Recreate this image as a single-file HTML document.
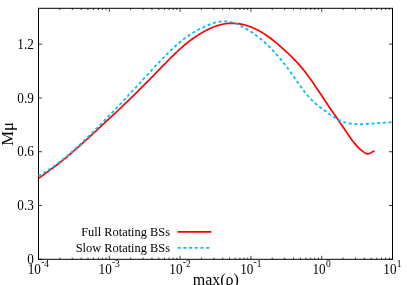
<!DOCTYPE html>
<html><head><meta charset="utf-8"><title>plot</title>
<style>html,body{margin:0;padding:0;background:#fff;width:407px;height:285px;overflow:hidden;font-family:"Liberation Serif",serif}</style>
</head><body>
<svg width="407" height="285" viewBox="0 0 407 285" style="position:absolute;left:0;top:0;will-change:transform">
<rect x="0" y="0" width="407" height="285" fill="#fff"/>
<path d="M38.50,259.3 v-3.5 M38.50,8.3 v3.5 M59.81,259.3 v-1.7 M59.81,8.3 v1.7 M72.28,259.3 v-1.7 M72.28,8.3 v1.7 M81.13,259.3 v-1.7 M81.13,8.3 v1.7 M87.99,259.3 v-1.7 M87.99,8.3 v1.7 M93.59,259.3 v-1.7 M93.59,8.3 v1.7 M98.33,259.3 v-1.7 M98.33,8.3 v1.7 M102.44,259.3 v-1.7 M102.44,8.3 v1.7 M106.06,259.3 v-1.7 M106.06,8.3 v1.7 M109.30,259.3 v-3.5 M109.30,8.3 v3.5 M130.61,259.3 v-1.7 M130.61,8.3 v1.7 M143.08,259.3 v-1.7 M143.08,8.3 v1.7 M151.93,259.3 v-1.7 M151.93,8.3 v1.7 M158.79,259.3 v-1.7 M158.79,8.3 v1.7 M164.39,259.3 v-1.7 M164.39,8.3 v1.7 M169.13,259.3 v-1.7 M169.13,8.3 v1.7 M173.24,259.3 v-1.7 M173.24,8.3 v1.7 M176.86,259.3 v-1.7 M176.86,8.3 v1.7 M180.10,259.3 v-3.5 M180.10,8.3 v3.5 M201.41,259.3 v-1.7 M201.41,8.3 v1.7 M213.88,259.3 v-1.7 M213.88,8.3 v1.7 M222.73,259.3 v-1.7 M222.73,8.3 v1.7 M229.59,259.3 v-1.7 M229.59,8.3 v1.7 M235.19,259.3 v-1.7 M235.19,8.3 v1.7 M239.93,259.3 v-1.7 M239.93,8.3 v1.7 M244.04,259.3 v-1.7 M244.04,8.3 v1.7 M247.66,259.3 v-1.7 M247.66,8.3 v1.7 M250.90,259.3 v-3.5 M250.90,8.3 v3.5 M272.21,259.3 v-1.7 M272.21,8.3 v1.7 M284.68,259.3 v-1.7 M284.68,8.3 v1.7 M293.53,259.3 v-1.7 M293.53,8.3 v1.7 M300.39,259.3 v-1.7 M300.39,8.3 v1.7 M305.99,259.3 v-1.7 M305.99,8.3 v1.7 M310.73,259.3 v-1.7 M310.73,8.3 v1.7 M314.84,259.3 v-1.7 M314.84,8.3 v1.7 M318.46,259.3 v-1.7 M318.46,8.3 v1.7 M321.70,259.3 v-3.5 M321.70,8.3 v3.5 M343.01,259.3 v-1.7 M343.01,8.3 v1.7 M355.48,259.3 v-1.7 M355.48,8.3 v1.7 M364.33,259.3 v-1.7 M364.33,8.3 v1.7 M371.19,259.3 v-1.7 M371.19,8.3 v1.7 M376.79,259.3 v-1.7 M376.79,8.3 v1.7 M381.53,259.3 v-1.7 M381.53,8.3 v1.7 M385.64,259.3 v-1.7 M385.64,8.3 v1.7 M389.26,259.3 v-1.7 M389.26,8.3 v1.7 M392.50,259.3 v-3.5 M392.50,8.3 v3.5 M38.5,259.30 h3.5 M392.5,259.30 h-3.5 M38.5,205.51 h3.5 M392.5,205.51 h-3.5 M38.5,151.73 h3.5 M392.5,151.73 h-3.5 M38.5,97.94 h3.5 M392.5,97.94 h-3.5 M38.5,44.16 h3.5 M392.5,44.16 h-3.5" stroke="#000" stroke-width="0.75" fill="none"/>
<rect x="38.5" y="8.3" width="354.0" height="251.0" fill="none" stroke="#000" stroke-width="1"/>
<path d="M38.5,178.4 L39.8,177.5 L41.1,176.6 L42.4,175.6 L43.7,174.7 L45.0,173.7 L46.3,172.8 L47.6,171.8 L48.9,170.9 L50.2,169.9 L51.5,168.9 L52.8,168.0 L54.1,167.0 L55.4,166.0 L56.7,165.0 L58.0,164.0 L59.3,163.0 L60.6,162.0 L61.9,160.9 L63.2,159.9 L64.5,158.9 L65.8,157.8 L67.0,156.8 L68.3,155.7 L69.6,154.6 L70.9,153.5 L72.2,152.4 L73.5,151.3 L74.8,150.2 L76.1,149.0 L77.4,147.9 L78.7,146.7 L80.0,145.6 L81.3,144.4 L82.6,143.2 L83.9,142.1 L85.2,140.9 L86.5,139.7 L87.8,138.5 L89.1,137.3 L90.4,136.1 L91.7,134.9 L93.0,133.7 L94.3,132.5 L95.6,131.3 L96.9,130.1 L98.2,128.9 L99.5,127.7 L100.8,126.4 L102.1,125.2 L103.4,124.0 L104.7,122.8 L106.0,121.6 L107.3,120.4 L108.6,119.2 L109.9,118.0 L111.2,116.8 L112.5,115.6 L113.8,114.4 L115.1,113.2 L116.4,112.0 L117.7,110.8 L119.0,109.5 L120.3,108.3 L121.6,107.1 L122.8,105.9 L124.1,104.6 L125.4,103.4 L126.7,102.2 L128.0,100.9 L129.3,99.7 L130.6,98.4 L131.9,97.1 L133.2,95.9 L134.5,94.6 L135.8,93.3 L137.1,92.0 L138.4,90.7 L139.7,89.4 L141.0,88.1 L142.3,86.8 L143.6,85.5 L144.9,84.2 L146.2,82.9 L147.5,81.6 L148.8,80.3 L150.1,78.9 L151.4,77.6 L152.7,76.3 L154.0,74.9 L155.3,73.6 L156.6,72.3 L157.9,71.0 L159.2,69.6 L160.5,68.3 L161.8,66.9 L163.1,65.6 L164.4,64.3 L165.7,63.0 L167.0,61.6 L168.3,60.3 L169.6,59.0 L170.9,57.7 L172.2,56.4 L173.5,55.2 L174.8,53.9 L176.1,52.7 L177.4,51.5 L178.6,50.2 L179.9,49.1 L181.2,47.9 L182.5,46.8 L183.8,45.6 L185.1,44.5 L186.4,43.5 L187.7,42.4 L189.0,41.4 L190.3,40.4 L191.6,39.5 L192.9,38.5 L194.2,37.6 L195.5,36.7 L196.8,35.9 L198.1,35.1 L199.4,34.2 L200.7,33.5 L202.0,32.7 L203.3,32.0 L204.6,31.3 L205.9,30.6 L207.2,29.9 L208.5,29.3 L209.8,28.7 L211.1,28.1 L212.4,27.5 L213.7,27.0 L215.0,26.5 L216.3,26.0 L217.6,25.6 L218.9,25.2 L220.2,24.8 L221.5,24.5 L222.8,24.2 L224.1,24.0 L225.4,23.7 L226.7,23.6 L228.0,23.4 L229.3,23.3 L230.6,23.3 L231.9,23.2 L233.2,23.3 L234.5,23.3 L235.7,23.4 L237.0,23.5 L238.3,23.7 L239.6,23.9 L240.9,24.1 L242.2,24.4 L243.5,24.7 L244.8,25.0 L246.1,25.4 L247.4,25.8 L248.7,26.2 L250.0,26.6 L251.3,27.1 L252.6,27.7 L253.9,28.2 L255.2,28.8 L256.5,29.5 L257.8,30.1 L259.1,30.8 L260.4,31.6 L261.7,32.3 L263.0,33.1 L264.3,33.9 L265.6,34.8 L266.9,35.7 L268.2,36.6 L269.5,37.5 L270.8,38.5 L272.1,39.5 L273.4,40.5 L274.7,41.6 L276.0,42.6 L277.3,43.7 L278.6,44.8 L279.9,46.0 L281.2,47.1 L282.5,48.3 L283.8,49.4 L285.1,50.6 L286.4,51.8 L287.7,53.0 L289.0,54.2 L290.3,55.5 L291.5,56.7 L292.8,58.0 L294.1,59.3 L295.4,60.7 L296.7,62.0 L298.0,63.4 L299.3,64.9 L300.6,66.4 L301.9,67.9 L303.2,69.4 L304.5,71.1 L305.8,72.7 L307.1,74.4 L308.4,76.2 L309.7,78.0 L311.0,79.8 L312.3,81.7 L313.6,83.6 L314.9,85.5 L316.2,87.4 L317.5,89.3 L318.8,91.3 L320.1,93.3 L321.4,95.2 L322.7,97.2 L324.0,99.1 L325.3,101.1 L326.6,103.0 L327.9,105.0 L329.2,106.9 L330.5,108.8 L331.8,110.7 L333.1,112.6 L334.4,114.5 L335.7,116.3 L337.0,118.2 L338.3,120.1 L339.6,122.0 L340.9,123.9 L342.2,125.8 L343.5,127.7 L344.8,129.6 L346.1,131.5 L347.3,133.4 L348.6,135.2 L349.9,137.1 L351.2,138.9 L352.5,140.7 L353.8,142.3 L355.1,143.9 L356.4,145.4 L357.7,146.8 L359.0,148.1 L360.3,149.3 L361.6,150.4 L362.9,151.4 L364.2,152.4 L365.5,153.2 L366.8,153.8 L368.1,153.9 L369.4,153.5 L370.7,152.9 L372.0,152.1 L373.3,151.5 L374.6,151.1" stroke="#ff0000" stroke-width="1.7" fill="none" stroke-linejoin="round" stroke-linecap="butt"/>
<path d="M38.5,176.0 L39.9,175.2 L41.2,174.5 L42.6,173.7 L44.0,172.8 L45.3,172.0 L46.7,171.1 L48.1,170.2 L49.4,169.3 L50.8,168.4 L52.2,167.5 L53.5,166.5 L54.9,165.5 L56.3,164.5 L57.6,163.5 L59.0,162.4 L60.4,161.4 L61.7,160.3 L63.1,159.2 L64.5,158.1 L65.8,157.0 L67.2,155.9 L68.6,154.7 L69.9,153.6 L71.3,152.4 L72.7,151.2 L74.0,150.0 L75.4,148.8 L76.8,147.5 L78.1,146.3 L79.5,145.0 L80.9,143.8 L82.2,142.5 L83.6,141.2 L85.0,139.9 L86.4,138.6 L87.7,137.3 L89.1,135.9 L90.5,134.6 L91.8,133.3 L93.2,131.9 L94.6,130.5 L95.9,129.2 L97.3,127.8 L98.7,126.4 L100.0,125.1 L101.4,123.7 L102.8,122.3 L104.1,120.9 L105.5,119.5 L106.9,118.1 L108.2,116.7 L109.6,115.2 L111.0,113.8 L112.3,112.4 L113.7,111.0 L115.1,109.5 L116.4,108.1 L117.8,106.7 L119.2,105.2 L120.5,103.8 L121.9,102.3 L123.3,100.8 L124.6,99.4 L126.0,97.9 L127.4,96.5 L128.7,95.0 L130.1,93.5 L131.5,92.0 L132.8,90.5 L134.2,89.1 L135.6,87.6 L136.9,86.1 L138.3,84.6 L139.7,83.1 L141.0,81.6 L142.4,80.2 L143.8,78.7 L145.1,77.2 L146.5,75.7 L147.9,74.2 L149.2,72.8 L150.6,71.3 L152.0,69.8 L153.3,68.4 L154.7,66.9 L156.1,65.4 L157.4,64.0 L158.8,62.6 L160.2,61.1 L161.5,59.7 L162.9,58.3 L164.3,56.9 L165.6,55.5 L167.0,54.1 L168.4,52.8 L169.7,51.4 L171.1,50.1 L172.5,48.8 L173.9,47.5 L175.2,46.3 L176.6,45.0 L178.0,43.8 L179.3,42.7 L180.7,41.5 L182.1,40.4 L183.4,39.3 L184.8,38.3 L186.2,37.3 L187.5,36.3 L188.9,35.4 L190.3,34.5 L191.6,33.6 L193.0,32.8 L194.4,32.0 L195.7,31.2 L197.1,30.4 L198.5,29.7 L199.8,29.0 L201.2,28.3 L202.6,27.6 L203.9,27.0 L205.3,26.4 L206.7,25.8 L208.0,25.2 L209.4,24.6 L210.8,24.1 L212.1,23.6 L213.5,23.1 L214.9,22.7 L216.2,22.4 L217.6,22.0 L219.0,21.8 L220.3,21.6 L221.7,21.4 L223.1,21.3 L224.4,21.3 L225.8,21.3 L227.2,21.5 L228.5,21.7 L229.9,21.9 L231.3,22.2 L232.6,22.6 L234.0,23.0 L235.4,23.5 L236.7,24.0 L238.1,24.6 L239.5,25.2 L240.8,25.9 L242.2,26.6 L243.6,27.3 L244.9,28.1 L246.3,28.9 L247.7,29.7 L249.0,30.5 L250.4,31.4 L251.8,32.3 L253.1,33.2 L254.5,34.2 L255.9,35.2 L257.2,36.2 L258.6,37.3 L260.0,38.4 L261.4,39.5 L262.7,40.6 L264.1,41.8 L265.5,43.1 L266.8,44.4 L268.2,45.7 L269.6,47.0 L270.9,48.4 L272.3,49.8 L273.7,51.3 L275.0,52.8 L276.4,54.3 L277.8,55.9 L279.1,57.5 L280.5,59.1 L281.9,60.8 L283.2,62.5 L284.6,64.2 L286.0,66.0 L287.3,67.8 L288.7,69.6 L290.1,71.5 L291.4,73.4 L292.8,75.3 L294.2,77.3 L295.5,79.2 L296.9,81.2 L298.3,83.1 L299.6,85.0 L301.0,86.9 L302.4,88.8 L303.7,90.6 L305.1,92.4 L306.5,94.1 L307.8,95.7 L309.2,97.3 L310.6,98.8 L311.9,100.2 L313.3,101.5 L314.7,102.8 L316.0,104.0 L317.4,105.1 L318.8,106.2 L320.1,107.3 L321.5,108.3 L322.9,109.3 L324.2,110.3 L325.6,111.3 L327.0,112.3 L328.3,113.3 L329.7,114.3 L331.1,115.2 L332.4,116.2 L333.8,117.0 L335.2,117.9 L336.5,118.7 L337.9,119.4 L339.3,120.1 L340.6,120.8 L342.0,121.3 L343.4,121.8 L344.7,122.3 L346.1,122.7 L347.5,123.0 L348.9,123.3 L350.2,123.5 L351.6,123.7 L353.0,123.9 L354.3,124.0 L355.7,124.1 L357.1,124.2 L358.4,124.2 L359.8,124.2 L361.2,124.2 L362.5,124.2 L363.9,124.1 L365.3,124.1 L366.6,124.0 L368.0,123.9 L369.4,123.8 L370.7,123.7 L372.1,123.6 L373.5,123.5 L374.8,123.4 L376.2,123.3 L377.6,123.2 L378.9,123.1 L380.3,123.0 L381.7,122.9 L383.0,122.8 L384.4,122.7 L385.8,122.6 L387.1,122.5 L388.5,122.5 L389.9,122.4 L391.2,122.3 L392.6,122.2" stroke="#00bfff" stroke-width="1.85" fill="none" stroke-dasharray="3.0 2.7" stroke-linejoin="round"/>
<path d="M177.7,231.9 H211.3" stroke="#ff0000" stroke-width="1.7" fill="none"/>
<path d="M177.7,247.9 H211.3" stroke="#00bfff" stroke-width="1.85" fill="none" stroke-dasharray="3.0 2.7"/>
<text transform="translate(33.8,263.90) scale(1,1.09)" font-size="13.2" text-anchor="end" font-family="Liberation Serif, serif" fill="#000">0</text>
<text transform="translate(33.8,210.11) scale(1,1.09)" font-size="13.2" text-anchor="end" font-family="Liberation Serif, serif" fill="#000">0.3</text>
<text transform="translate(33.8,156.33) scale(1,1.09)" font-size="13.2" text-anchor="end" font-family="Liberation Serif, serif" fill="#000">0.6</text>
<text transform="translate(33.8,102.54) scale(1,1.09)" font-size="13.2" text-anchor="end" font-family="Liberation Serif, serif" fill="#000">0.9</text>
<text transform="translate(33.8,48.76) scale(1,1.09)" font-size="13.2" text-anchor="end" font-family="Liberation Serif, serif" fill="#000">1.2</text>
<text transform="translate(27.74,273.9) scale(1,1.09)" font-size="13.2" font-family="Liberation Serif, serif" fill="#000">10</text>
<text x="41.14" y="266.6" font-size="9.5" font-family="Liberation Serif, serif" fill="#000"><tspan dy="-1.2">-</tspan><tspan dy="1.2">4</tspan></text>
<text transform="translate(98.54,273.9) scale(1,1.09)" font-size="13.2" font-family="Liberation Serif, serif" fill="#000">10</text>
<text x="111.94" y="266.6" font-size="9.5" font-family="Liberation Serif, serif" fill="#000"><tspan dy="-1.2">-</tspan><tspan dy="1.2">3</tspan></text>
<text transform="translate(169.34,273.9) scale(1,1.09)" font-size="13.2" font-family="Liberation Serif, serif" fill="#000">10</text>
<text x="182.74" y="266.6" font-size="9.5" font-family="Liberation Serif, serif" fill="#000"><tspan dy="-1.2">-</tspan><tspan dy="1.2">2</tspan></text>
<text transform="translate(240.14,273.9) scale(1,1.09)" font-size="13.2" font-family="Liberation Serif, serif" fill="#000">10</text>
<text x="253.54" y="266.6" font-size="9.5" font-family="Liberation Serif, serif" fill="#000"><tspan dy="-1.2">-</tspan><tspan dy="1.2">1</tspan></text>
<text transform="translate(312.52,273.9) scale(1,1.09)" font-size="13.2" font-family="Liberation Serif, serif" fill="#000">10</text>
<text x="325.92" y="266.6" font-size="9.5" font-family="Liberation Serif, serif" fill="#000">0</text>
<text transform="translate(383.32,273.9) scale(1,1.09)" font-size="13.2" font-family="Liberation Serif, serif" fill="#000">10</text>
<text x="396.72" y="266.6" font-size="9.5" font-family="Liberation Serif, serif" fill="#000">1</text>
<text x="170.0" y="235.7" font-size="12.4" text-anchor="end" font-family="Liberation Serif, serif" fill="#000">Full Rotating BSs</text>
<text x="170.0" y="251.8" font-size="12.4" text-anchor="end" font-family="Liberation Serif, serif" fill="#000">Slow Rotating BSs</text>
<text x="215.8" y="284.8" font-size="16.0" text-anchor="middle" font-family="Liberation Serif, serif" fill="#000">max(ρ)</text>
<text transform="translate(13.2,133.9) rotate(-90) scale(1.04,1)" font-size="16.0" text-anchor="middle" font-family="Liberation Serif, serif" fill="#000">Mμ</text>
</svg>
</body></html>
